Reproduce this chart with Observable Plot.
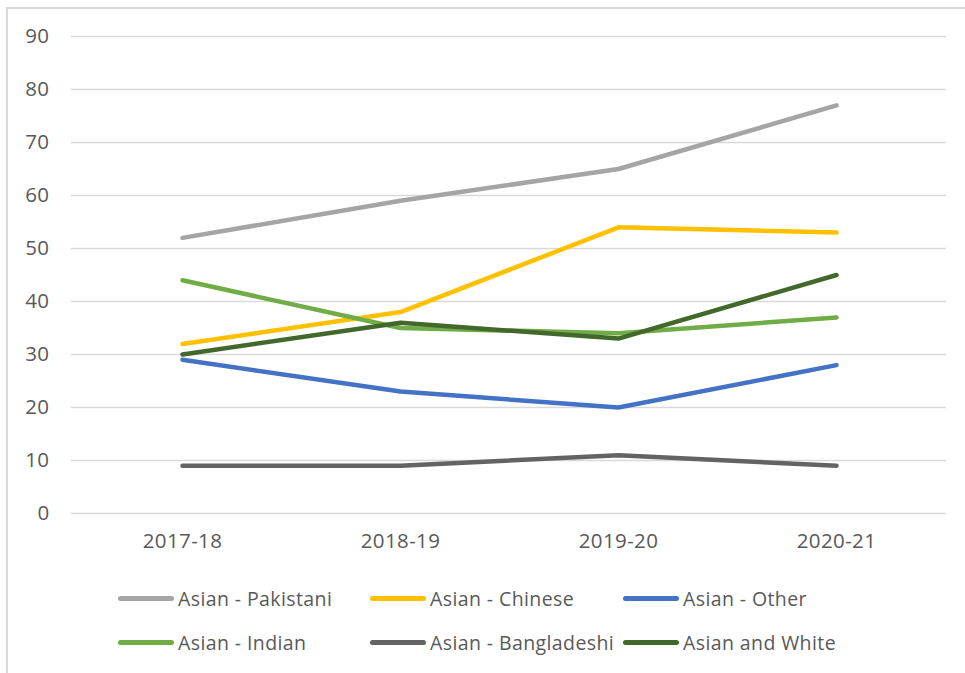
<!DOCTYPE html>
<html>
<head>
<meta charset="utf-8">
<script src="https://cdn.jsdelivr.net/npm/d3@7"></script>
<script src="https://cdn.jsdelivr.net/npm/@observablehq/plot@0.6"></script>
<style>
  html, body { margin: 0; padding: 0; background: #ffffff; width: 965px; height: 673px; overflow: hidden; }
  #frame { position: absolute; left: 6px; top: 7px; width: 1000px; height: 700px;
           border-top: 2px solid #d9d9d9; border-left: 2px solid #d9d9d9; box-sizing: border-box; }
  #chart { position: absolute; left: 0; top: 0; }
  .legend-item { position: absolute; display: flex; align-items: center; height: 30px;
                 font-family: "Open Sans", sans-serif; font-size: 19.5px; letter-spacing: 0.4px; color: #595959; white-space: nowrap; }
  .swatch { width: 56px; height: 5px; border-radius: 3px; margin-right: 4px; }
</style>
</head>
<body>
<div id="frame"></div>
<div id="chart"></div>
<div id="legend"></div>
<script>
const years = ["2017-18", "2018-19", "2019-20", "2020-21"];
const seriesNames = ["Asian - Pakistani", "Asian - Chinese", "Asian - Other", "Asian - Indian", "Asian - Bangladeshi", "Asian and White"];
const pakistani   = [52, 59, 65, 77];
const chinese     = [32, 38, 54, 53];
const other       = [29, 23, 20, 28];
const indian      = [44, 35, 34, 37];
const bangladeshi = [9, 9, 11, 9];
const asianWhite  = [30, 36, 33, 45];
const seriesColors = ["#a5a5a5", "#ffc000", "#4472c4", "#70ad47", "#636363", "#43682b"];
const yTicks = [0, 10, 20, 30, 40, 50, 60, 70, 80, 90];

const seriesValues = [pakistani, chinese, other, indian, bangladeshi, asianWhite];
const data = [];
seriesNames.forEach((name, i) => {
  years.forEach((yr, j) => data.push({series: name, year: yr, value: seriesValues[i][j]}));
});

const chart = Plot.plot({
  width: 965,
  height: 560,
  marginLeft: 71,
  marginRight: 19,
  marginTop: 36,
  marginBottom: 47,
  style: {fontFamily: "'Open Sans', sans-serif", fontSize: "20.5px", color: "#595959", background: "transparent", overflow: "visible", letterSpacing: "0.4px"},
  x: {type: "point", domain: years, padding: 0.5},
  y: {domain: [0, 90]},
  color: {domain: seriesNames, range: seriesColors},
  marks: [
    Plot.gridY(yTicks, {stroke: "#d9d9d9", strokeOpacity: 1, strokeWidth: 1.5}),
    Plot.axisY(yTicks, {tickSize: 0, tickPadding: 22, label: null, fill: "#595959", fontSize: 20.5}),
    Plot.axisX({tickSize: 0, tickPadding: 20, label: null, fill: "#595959", fontSize: 20.5}),
    Plot.line(data, {x: "year", y: "value", z: "series", stroke: "series", strokeWidth: 4.5,
                     strokeLinecap: "round", strokeLinejoin: "round"})
  ]
});
document.getElementById("chart").appendChild(chart);

// Legend (HTML), two rows of three
const legend = document.getElementById("legend");
const colX = [118, 370, 623];
const rowY = [598, 642];
seriesNames.forEach((name, i) => {
  const item = document.createElement("div");
  item.className = "legend-item";
  item.style.left = colX[i % 3] + "px";
  item.style.top = (rowY[Math.floor(i / 3)] - 15) + "px";
  const sw = document.createElement("div");
  sw.className = "swatch";
  sw.style.background = seriesColors[i];
  const label = document.createElement("span");
  label.textContent = name;
  item.appendChild(sw);
  item.appendChild(label);
  legend.appendChild(item);
});
</script>
</body>
</html>
